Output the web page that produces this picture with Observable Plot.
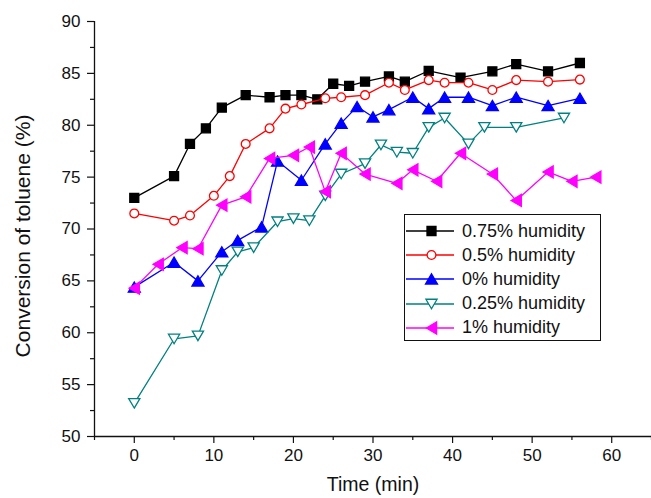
<!DOCTYPE html>
<html>
<head>
<meta charset="utf-8">
<script src="https://cdn.jsdelivr.net/npm/d3@7"></script>
<script src="https://cdn.jsdelivr.net/npm/@observablehq/plot@0.6"></script>
<style>
  body { margin: 0; background: #fff; }
  #wrap { position: relative; width: 651px; height: 498px; font-family: "Liberation Sans", Arial, sans-serif; }
  #legend { position: absolute; left: 404px; top: 214px; width: 197px; height: 127px; border: 1px solid #111; box-sizing: border-box; background: #fff; }
  .row { position: absolute; left: 0; height: 24px; display: flex; align-items: center; font-size: 18px; color: #111; white-space: nowrap; }
  .row svg { display: block; }
  .row span { margin-left: 7px; }
</style>
</head>
<body>
<div id="wrap"></div>
<script>
// ---- data ----
const seriesNames = ["0.75% humidity", "0.5% humidity", "0% humidity", "0.25% humidity", "1% humidity"];
const seriesColors = ["#000000", "#ff0000", "#0000ff", "#008080", "#ff00ff"];

const time075 = [0, 5, 7, 9, 11, 14, 17, 19, 21, 23, 25, 27, 29, 32, 34, 37, 41, 45, 48, 52, 56];
const conv075 = [73.0, 75.1, 78.2, 79.7, 81.7, 82.9, 82.7, 82.9, 82.9, 82.5, 84.0, 83.8, 84.2, 84.7, 84.2, 85.25, 84.6, 85.2, 85.9, 85.2, 86.0];

const time05 = [0, 5, 7, 10, 12, 14, 17, 19, 21, 24, 26, 29, 32, 34, 37, 39, 42, 45, 48, 52, 56];
const conv05 = [71.5, 70.8, 71.3, 73.2, 75.1, 78.2, 79.7, 81.6, 82.0, 82.6, 82.7, 82.9, 84.1, 83.4, 84.35, 84.1, 84.1, 83.4, 84.35, 84.2, 84.4];

const time0 = [0, 5, 8, 11, 13, 16, 18, 21, 24, 26, 28, 30, 32, 35, 37, 39, 42, 45, 48, 52, 56];
const conv0 = [64.4, 66.8, 65.0, 67.8, 68.9, 70.2, 76.55, 74.7, 78.2, 80.2, 81.8, 80.8, 81.5, 82.7, 81.6, 82.7, 82.7, 81.9, 82.7, 81.9, 82.6];

const time025 = [0, 5, 8, 11, 13, 15, 18, 20, 22, 24, 26, 29, 31, 33, 35, 37, 39, 42, 44, 48, 54];
const conv025 = [53.2, 59.4, 59.7, 66.0, 67.8, 68.2, 70.7, 71.0, 70.8, 73.2, 75.3, 76.3, 78.1, 77.4, 77.3, 79.8, 80.7, 78.2, 79.8, 79.8, 80.7];

const time1 = [0, 3, 6, 8, 11, 14, 17, 20, 22, 24, 26, 29, 33, 35, 38, 41, 45, 48, 52, 55, 58];
const conv1 = [64.3, 66.6, 68.2, 68.1, 72.3, 73.1, 76.8, 77.1, 77.9, 73.6, 77.3, 75.3, 74.4, 75.7, 74.6, 77.3, 75.3, 72.75, 75.5, 74.6, 75.0];

const xMajorTicks = [0, 10, 20, 30, 40, 50, 60];
const xMinorTicks = [-5, 5, 15, 25, 35, 45, 55, 65];
const yMajorTicks = [50, 55, 60, 65, 70, 75, 80, 85, 90];
const yMinorTicks = [52.5, 57.5, 62.5, 67.5, 72.5, 77.5, 82.5, 87.5];

const xLabel = "Time (min)";
const yLabel = "Conversion of toluene (%)";

// ---- marker symbols ----
function tri(dir) {
  return {
    draw(ctx, size) {
      const r = Math.sqrt(size / Math.PI);
      const hw = r, hh = r * 0.85;
      if (dir === "up") { ctx.moveTo(0, -hh); ctx.lineTo(hw, hh); ctx.lineTo(-hw, hh); }
      else if (dir === "down") { ctx.moveTo(0, hh); ctx.lineTo(hw, -hh); ctx.lineTo(-hw, -hh); }
      else { ctx.moveTo(-hh, 0); ctx.lineTo(hh, -hw); ctx.lineTo(hh, hw); }
      ctx.closePath();
    }
  };
}
const squareSym = { draw(ctx, size) { const r = Math.sqrt(size / Math.PI); ctx.rect(-r, -r, 2 * r, 2 * r); } };
const circleSym = { draw(ctx, size) { const r = Math.sqrt(size / Math.PI); ctx.moveTo(r, 0); ctx.arc(0, 0, r, 0, 2 * Math.PI); ctx.closePath(); } };

const series = [
  { t: time075, c: conv075, sym: squareSym, r: 4.5, fill: seriesColors[0] },
  { t: time05, c: conv05, sym: circleSym, r: 4.4, fill: "white" },
  { t: time0, c: conv0, sym: tri("up"), r: 6, fill: seriesColors[2] },
  { t: time025, c: conv025, sym: tri("down"), r: 5.6, fill: "white" },
  { t: time1, c: conv1, sym: tri("left"), r: 6, fill: seriesColors[4] }
].map((s, i) => ({ ...s, name: seriesNames[i], color: seriesColors[i], rows: s.t.map((t, j) => ({ t, c: s.c[j] })) }));

const marks = [];
for (const s of series) {
  marks.push(Plot.line(s.rows, { x: "t", y: "c", stroke: s.color, strokeWidth: 1.3 }));
  marks.push(Plot.dot(s.rows, { x: "t", y: "c", symbol: s.sym, r: s.r, fill: s.fill, stroke: s.color, strokeWidth: 1.3 }));
}

const chart = Plot.plot({
  width: 651,
  height: 498,
  marginLeft: 94,
  marginRight: 0,
  marginTop: 21,
  marginBottom: 62,
  style: { fontFamily: "'Liberation Sans', Arial, sans-serif", fontSize: "17px", color: "#111", background: "white" },
  x: { domain: [-5, 65] },
  y: { domain: [50, 90] },
  marks: [
    Plot.axisY({ ticks: yMajorTicks, tickSize: 7, tickPadding: 7, fontSize: 17, label: null, strokeWidth: 1.2 }),
    Plot.axisY({ ticks: yMinorTicks, tickSize: 4, text: null, label: null, strokeWidth: 1.2 }),
    Plot.axisX({ ticks: xMajorTicks, tickSize: 7, tickPadding: 5, fontSize: 17, label: null, strokeWidth: 1.2 }),
    Plot.axisX({ ticks: xMinorTicks, tickSize: 4, text: null, label: null, strokeWidth: 1.2 }),
    Plot.ruleX([-5], { y1: 50, y2: 90, stroke: "#111", strokeWidth: 1.3 }),
    Plot.ruleY([50], { x1: -5, x2: 65, stroke: "#111", strokeWidth: 1.3 }),
    Plot.text([xLabel], { text: d => d, frameAnchor: "bottom", textAnchor: "middle", dy: 54, fontSize: 19.5, fill: "#111" }),
    Plot.text([yLabel], { text: d => d, frameAnchor: "left", textAnchor: "middle", dx: -71, dy: 7, rotate: -90, fontSize: 21, fill: "#111" }),
    ...marks
  ]
});

const wrap = document.getElementById("wrap");
wrap.appendChild(chart);

// ---- legend ----
const legend = document.createElement("div");
legend.id = "legend";
series.forEach((s, i) => {
  const row = document.createElement("div");
  row.className = "row";
  row.style.top = (16 + i * 24.2 - 12) + "px";
  const svg = d3.create("svg").attr("width", 50).attr("height", 24);
  svg.append("line").attr("x1", 1).attr("x2", 49).attr("y1", 12).attr("y2", 12)
    .attr("stroke", s.color).attr("stroke-width", 1.3);
  const p = d3.path();
  s.sym.draw(p, Math.PI * s.r * s.r);
  svg.append("path").attr("d", p.toString()).attr("transform", "translate(26.5,12)")
    .attr("fill", s.fill).attr("stroke", s.color).attr("stroke-width", 1.3);
  row.appendChild(svg.node());
  const span = document.createElement("span");
  span.textContent = s.name;
  row.appendChild(span);
  legend.appendChild(row);
});
wrap.appendChild(legend);
</script>
</body>
</html>
